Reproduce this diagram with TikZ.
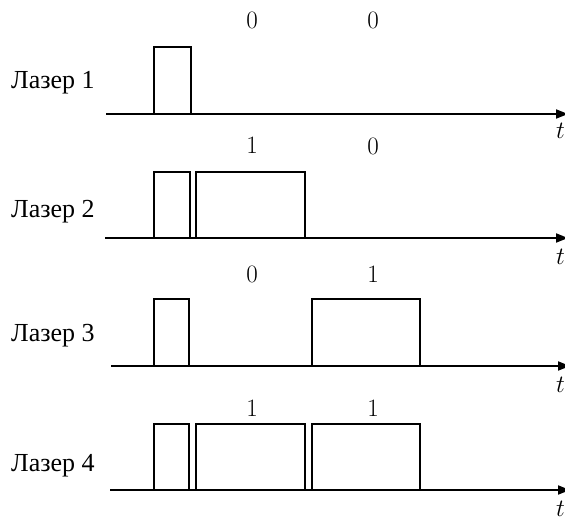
\documentclass[tikz,border=0pt]{standalone}
\usepackage{fontspec}
\newfontfamily\cyr{Liberation Serif}
\usetikzlibrary{arrows.meta}
\begin{document}
\begin{tikzpicture}[x=1pt,y=-1pt,
  axis/.style={line width=1.8pt,-{Stealth[length=12pt,width=9pt,inset=0pt]}},
  pulse/.style={line width=1.4pt,line join=miter},
  lbl/.style={anchor=base west,inner sep=0pt,font=\cyr\fontsize{26}{30}\selectfont},
  bit/.style={inner sep=0pt,font=\fontsize{25}{28}\selectfont},
  tl/.style={inner sep=0pt,anchor=west,font=\fontsize{25}{28}\selectfont}]
\useasboundingbox (0,0) rectangle (565,522);
% row 1
\node[lbl] (l1) at (11,88) {Лазер 1};
\node[bit] (b11) at (252,20) {0};
\node[bit] (b12) at (373,20) {0};
\coordinate (a1s) at (106,114); \coordinate (a1e) at (568,114);
\draw[axis] (a1s) -- (a1e);
\draw[pulse] (154,114) -- (154,47) -- (191,47) -- (191,114);
\node[tl] (t1) at (556,131) {$t$};
% row 2
\node[lbl] (l2) at (11,217) {Лазер 2};
\node[bit] (b21) at (252,145) {1};
\node[bit] (b22) at (373,146) {0};
\coordinate (a2s) at (105,238); \coordinate (a2e) at (568,238);
\draw[axis] (a2s) -- (a2e);
\draw[pulse] (154,238) -- (154,172) -- (190,172) -- (190,238);
\draw[pulse] (196,238) -- (196,172) -- (305,172) -- (305,238);
\node[tl] (t2) at (556,257) {$t$};
% row 3
\node[lbl] (l3) at (11,341) {Лазер 3};
\node[bit] (b31) at (252,274) {0};
\node[bit] (b32) at (373,274) {1};
\coordinate (a3s) at (111,366); \coordinate (a3e) at (570,366);
\draw[axis] (a3s) -- (a3e);
\draw[pulse] (154,366) -- (154,299) -- (189,299) -- (189,366);
\draw[pulse] (312,366) -- (312,299) -- (420,299) -- (420,366);
\node[tl] (t3) at (556,385) {$t$};
% row 4
\node[lbl] (l4) at (11,471) {Лазер 4};
\node[bit] (b41) at (252,408) {1};
\node[bit] (b42) at (373,408) {1};
\coordinate (a4s) at (110,490); \coordinate (a4e) at (570,490);
\draw[axis] (a4s) -- (a4e);
\draw[pulse] (154,490) -- (154,424) -- (189,424) -- (189,490);
\draw[pulse] (196,490) -- (196,424) -- (305,424) -- (305,490);
\draw[pulse] (312,490) -- (312,424) -- (420,424) -- (420,490);
\node[tl] (t4) at (556,509) {$t$};
\end{tikzpicture}
\end{document}
